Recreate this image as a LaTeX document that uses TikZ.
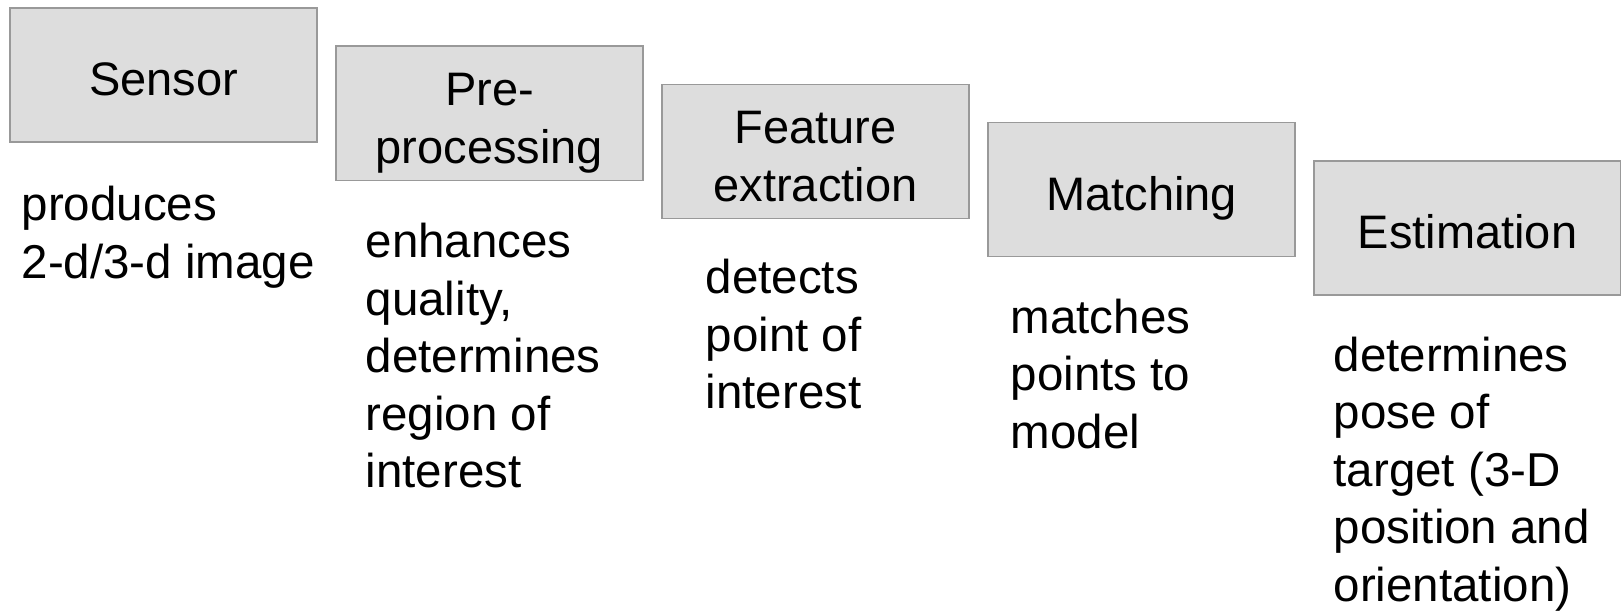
\documentclass[tikz,border=0pt]{standalone}
\usepackage{fontspec}
\setmainfont{Liberation Sans}
\usepackage{tikz}
\usetikzlibrary{positioning}
\definecolor{stageFill}{HTML}{DDDDDD}
\definecolor{stageLine}{HTML}{999999}
\tikzset{
    stage/.style = {
                rectangle,
                minimum width = 153.5pt,
                minimum height = 67pt,
                inner sep = 1pt,
                text centered,
                align = center,
                fill = stageFill,
                draw = stageLine,
                line width = 0.7pt,
                font = \fontsize{23.5}{29}\selectfont,
                text height = 26pt,
                text depth = 5pt
            },
    twoLines/.style = {text height = 55pt},
    note/.style = {
                align = left,
                anchor = north west,
                inner sep = 0pt,
                font = \fontsize{23.75}{28.75}\selectfont
            }
}
\begin{document}
\begin{tikzpicture}[node distance = 163pt]
                            \useasboundingbox (0pt,0pt) rectangle (810.5pt,-305pt);
                            \node (sensor) [stage] at (81.75pt,-37.5pt) {Sensor};
                            \node (pre) [stage, twoLines, right of=sensor, yshift = -19.1pt] {Pre-\\processing};
                            \node (feat) [stage, twoLines, right of=pre, yshift = -19.1pt] {Feature\\extraction};
                            \node (match) [stage, right of=feat, yshift = -19.1pt] {Matching};
                            \node (est) [stage, right of=match, yshift = -19.1pt] {Estimation};
                            \node (sensorNote) [note, below right = 21.5pt and 6pt of sensor.south west] {produces\\2-d/3-d image};
                            \node (preNote) [note, below right = 21pt and 15pt of pre.south west] {enhances\\quality,\\determines\\region of\\interest};
                            \node (featNote) [note, below right = 20pt and 22pt of feat.south west] {detects\\point of\\interest};
                            \node (matchNote) [note, below right = 20.5pt and 11.5pt of match.south west] {matches\\points to\\model};
                            \node (estNote) [note, below right = 20.5pt and 10pt of est.south west] {determines\\pose of\\target (3-D\\position and\\orientation)};
                        \end{tikzpicture}
\end{document}
